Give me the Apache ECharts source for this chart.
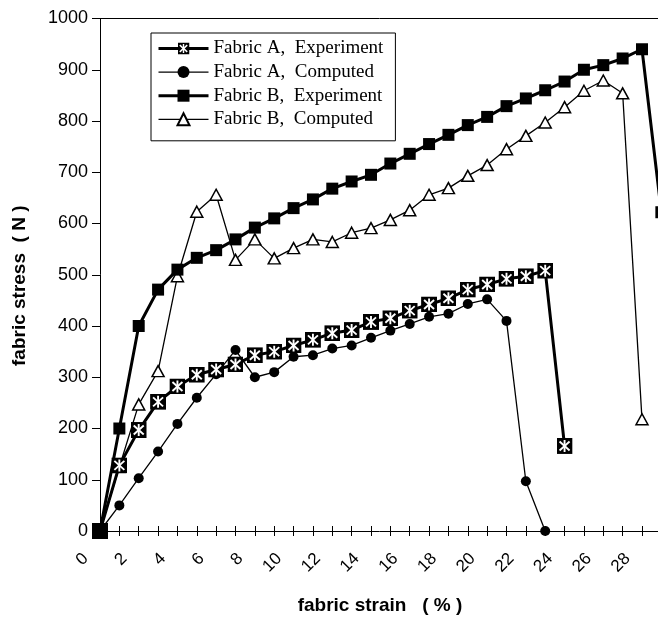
<!DOCTYPE html>
<html>
<head>
<meta charset="utf-8">
<script src="https://cdn.jsdelivr.net/npm/echarts@6/dist/echarts.min.js"></script>
<style>
html,body{margin:0;padding:0;background:#fff;}
#chart{width:658px;height:617px;}
</style>
</head>
<body>
<div id="chart"></div>
<script>
// ---- data ----
const strainAExp = [1,2,3,4,5,6,7,8,9,10,11,12,13,14,15,16,17,18,19,20,21,22,23,24,25];
const stressAExp = [0,128,197,252,282,305,315,325,343,350,362,373,386,392,408,415,430,442,454,471,481,492,497,508,166];

const strainAComp = [1,2,3,4,5,6,7,8,9,10,11,12,13,14,15,16,17,18,19,20,21,22,23,24];
const stressAComp = [0,50,103,155,209,260,306,353,300,310,340,343,356,362,377,391,404,418,424,443,452,410,97,0];

const strainBExp = [1,2,3,4,5,6,7,8,9,10,11,12,13,14,15,16,17,18,19,20,21,22,23,24,25,26,27,28,29,30];
const stressBExp = [0,200,400,471,510,533,548,569,592,610,630,647,668,682,695,717,736,755,773,792,808,829,844,860,877,900,909,922,940,622];

const strainBComp = [1,2,3,4,5,6,7,8,9,10,11,12,13,14,15,16,17,18,19,20,21,22,23,24,25,26,27,28,29];
const stressBComp = [0,125,247,312,497,623,656,529,569,532,552,569,564,582,591,607,626,656,669,693,714,745,771,797,827,859,879,854,218];

const seriesNames = ['Fabric A,  Experiment','Fabric A,  Computed','Fabric B,  Experiment','Fabric B,  Computed'];
const xTickValues = [1,2,3,4,5,6,7,8,9,10,11,12,13,14,15,16,17,18,19,20,21,22,23,24,25,26,27,28,29];
const xLabelValues = [0,2,4,6,8,10,12,14,16,18,20,22,24,26,28];
const xAxisStart = 1, xAxisEnd = 30;
const yMin = 0, yMax = 1000, yStep = 100;

function pairs(xs, ys){ return xs.map((x,i)=>[x, ys[i]]); }

const starSvg = "<svg xmlns='http://www.w3.org/2000/svg' width='32' height='32' viewBox='0 0 32 32'>" +
  "<rect width='32' height='32' fill='black'/>" +
  "<g stroke='white' stroke-width='3.8' stroke-linecap='butt'>" +
  "<line x1='16' y1='4' x2='16' y2='28'/>" +
  "<line x1='6' y1='7' x2='26' y2='25'/>" +
  "<line x1='26' y1='7' x2='6' y2='25'/>" +
  "</g></svg>";
const starSymbol = 'image://data:image/svg+xml;utf8,' + encodeURIComponent(starSvg);

const pxPerUnit = 19.357;
const axisX = 100;
const gridLeft = axisX - pxPerUnit * 1;

const chart = echarts.init(document.getElementById('chart'), null, {renderer:'canvas'});
const font = 'Liberation Sans, Arial, sans-serif';

const option = {
  animation: false,
  backgroundColor: '#fff',
  grid: { left: gridLeft, top: 18.5, width: pxPerUnit * 30, height: 512.5, containLabel: false, outerBoundsMode: 'none' },
  legend: {
    orient: 'vertical',
    left: 151, top: 33,
    padding: [6, 12, 12, 6],
    itemWidth: 50, itemHeight: 15, itemGap: 4.6,
    borderColor: '#000', borderWidth: 1, backgroundColor: '#fff',
    textStyle: { fontFamily: 'Liberation Serif, Times New Roman, serif', fontSize: 19, color: '#000' },
    data: [
      { name: seriesNames[0], lineStyle: { width: 3 } },
      { name: seriesNames[1], lineStyle: { width: 1.3 } },
      { name: seriesNames[2], lineStyle: { width: 3 } },
      { name: seriesNames[3], lineStyle: { width: 1.3 } }
    ]
  },
  xAxis: [{
    type: 'value', min: 0, max: 30,
    axisLine: { show: false },
    splitLine: { show: false },
    axisTick: { show: true, inside: false, length: 5, customValues: xTickValues, lineStyle: { color: '#000', width: 1 } },
    axisLabel: { show: true, rotate: 45, margin: 30, padding: [0, -7, 0, 0], customValues: xLabelValues, fontFamily: font, fontSize: 17, color: '#000' },
    name: 'fabric strain   ( % )',
    nameLocation: 'middle',
    nameGap: 65,
    nameTextStyle: { fontFamily: font, fontSize: 19, fontWeight: 'bold', color: '#000', padding: [0,0,0,18] }
  },{
    type: 'value', min: 0, max: 30, position: 'bottom',
    axisLine: { show: false },
    splitLine: { show: false },
    axisTick: { show: true, inside: true, length: 5, customValues: xTickValues, lineStyle: { color: '#000', width: 1 } },
    axisLabel: { show: false }
  }],
  yAxis: {
    type: 'value', min: yMin, max: yMax, interval: yStep,
    offset: -pxPerUnit,
    axisLine: { show: true, lineStyle: { color: '#000', width: 1 } },
    axisTick: { show: true, inside: false, length: 8, lineStyle: { color: '#000', width: 1 } },
    splitLine: { show: false },
    axisLabel: { margin: 12, fontFamily: font, fontSize: 18, color: '#000', formatter: (v) => String(v) },
    name: 'fabric stress  ( N )',
    nameLocation: 'middle',
    nameGap: 71,
    nameRotate: 90,
    nameTextStyle: { fontFamily: font, fontSize: 19, fontWeight: 'bold', color: '#000', padding: [0,0,0,-22] }
  },
  series: [
    {
      name: seriesNames[0], type: 'line', data: pairs(strainAExp, stressAExp),
      symbol: starSymbol, symbolSize: 16,
      lineStyle: { color: '#000', width: 3 }, itemStyle: { color: '#000' },
      z: 4,
      markLine: {
        silent: true, symbol: 'none', animation: false,
        label: { show: false },
        lineStyle: { color: '#000', width: 1, type: 'solid' },
        emphasis: { disabled: true },
        data: [
          [{ coord: [xAxisStart, yMin] }, { coord: [xAxisEnd, yMin] }],
          [{ coord: [xAxisStart, yMax] }, { coord: [xAxisEnd, yMax] }]
        ]
      }
    },
    {
      name: seriesNames[1], type: 'line', data: pairs(strainAComp, stressAComp),
      symbol: 'circle', symbolSize: 10,
      lineStyle: { color: '#000', width: 1.3 }, itemStyle: { color: '#000' },
      z: 3
    },
    {
      name: seriesNames[2], type: 'line', data: pairs(strainBExp, stressBExp),
      symbol: 'rect', symbolSize: 12,
      lineStyle: { color: '#000', width: 3 }, itemStyle: { color: '#000' },
      z: 4
    },
    {
      name: seriesNames[3], type: 'line', data: pairs(strainBComp, stressBComp),
      symbol: 'triangle', symbolSize: [12, 11],
      lineStyle: { color: '#000', width: 1.3 }, itemStyle: { color: '#fff', borderColor: '#000', borderWidth: 1.5 },
      z: 3
    }
  ]
};
chart.setOption(option);
</script>
</body>
</html>
